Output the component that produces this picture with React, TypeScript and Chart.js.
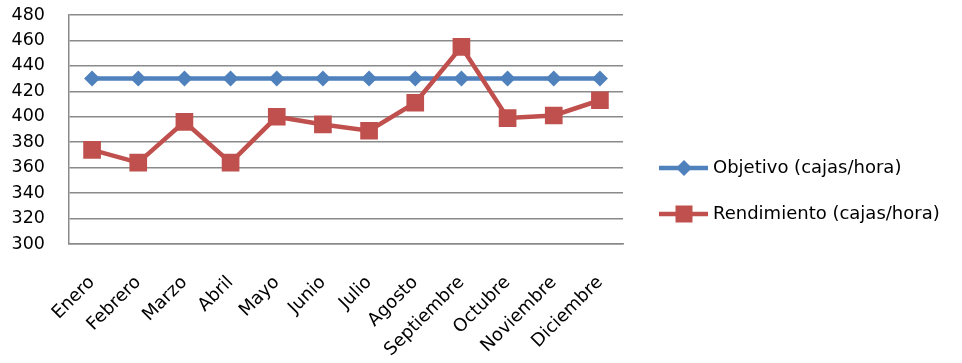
import React, { useEffect, useRef } from 'react';
import { Chart, registerables } from 'chart.js';

Chart.register(...registerables);

const months = ['Enero', 'Febrero', 'Marzo', 'Abril', 'Mayo', 'Junio', 'Julio', 'Agosto', 'Septiembre', 'Octubre', 'Noviembre', 'Diciembre'];
const objetivo = [430, 430, 430, 430, 430, 430, 430, 430, 430, 430, 430, 430];
const rendimiento = [374, 364, 396, 364, 400, 394, 389, 411, 455, 399, 401, 413];
const seriesNames = ['Objetivo (cajas/hora)', 'Rendimiento (cajas/hora)'];
const yMin = 300;
const yMax = 480;
const yStep = 20;

const BLUE = '#4F81BD';
const RED = '#C0504D';
const GRID = '#8a8a8a';
const FONT = 'DejaVu Sans';

function drawMarker(ctx: CanvasRenderingContext2D, style: string, x: number, y: number, color: string) {
  ctx.save();
  ctx.fillStyle = color;
  ctx.beginPath();
  if (style === 'rectRot') {
    const r = 8;
    ctx.moveTo(x - r, y);
    ctx.lineTo(x, y - r);
    ctx.lineTo(x + r, y);
    ctx.lineTo(x, y + r);
    ctx.closePath();
  } else {
    const h = 8.5;
    ctx.rect(x - h, y - h, 2 * h, 2 * h);
  }
  ctx.fill();
  ctx.restore();
}

const legendPlugin = {
  id: 'customLegend',
  afterDraw(chart: any) {
    const ctx: CanvasRenderingContext2D = chart.ctx;
    const area = chart.chartArea;
    const x0 = area.right + 36;
    const rows = [168, 214];
    chart.data.datasets.forEach((ds: any, i: number) => {
      const y = rows[i];
      ctx.save();
      ctx.strokeStyle = ds.borderColor;
      ctx.lineWidth = 4.5;
      ctx.beginPath();
      ctx.moveTo(x0, y);
      ctx.lineTo(x0 + 49, y);
      ctx.stroke();
      drawMarker(ctx, ds.pointStyle, x0 + 25, y, ds.borderColor);
      ctx.fillStyle = '#000';
      ctx.font = `18px "${FONT}"`;
      ctx.textBaseline = 'middle';
      ctx.textAlign = 'left';
      ctx.fillText(ds.label, x0 + 54, y);
      ctx.restore();
    });
  },
};

export default function App() {
  const canvasRef = useRef<HTMLCanvasElement | null>(null);

  useEffect(() => {
    if (!canvasRef.current) return;
    const chart = new Chart(canvasRef.current, {
      type: 'line',
      data: {
        labels: months,
        datasets: [
          {
            label: seriesNames[0],
            data: objetivo,
            borderColor: BLUE,
            backgroundColor: BLUE,
            borderWidth: 4.5,
            pointStyle: 'rectRot',
            pointRadius: 8,
            pointBorderWidth: 0,
            tension: 0,
            order: 1,
          },
          {
            label: seriesNames[1],
            data: rendimiento,
            borderColor: RED,
            backgroundColor: RED,
            borderWidth: 4.5,
            pointStyle: 'rect',
            pointRadius: 12.5,
            pointBorderWidth: 0,
            tension: 0,
            order: 0,
          },
        ],
      },
      options: {
        animation: false,
        responsive: false,
        maintainAspectRatio: false,
        layout: { padding: { top: 15, right: 339, left: 0, bottom: 0 } },
        plugins: {
          legend: { display: false },
          tooltip: { enabled: false },
        },
        scales: {
          x: {
            offset: true,
            grid: { display: false, drawTicks: false, offset: true },
            border: { display: true, color: GRID, width: 1.5 },
            ticks: {
              color: '#000',
              font: { family: FONT, size: 18 },
              minRotation: 45,
              maxRotation: 45,
              autoSkip: false,
              padding: 28,
            },
            afterFit: (scale: any) => {
              scale.height = 119;
              scale.paddingLeft = 0;
              scale.paddingRight = 0;
              scale.paddingTop = 0;
              scale.paddingBottom = 0;
            },
          },
          y: {
            min: yMin,
            max: yMax,
            grid: { color: GRID, lineWidth: 1.5, drawTicks: false },
            border: { display: true, color: GRID, width: 1.5 },
            ticks: {
              stepSize: yStep,
              autoSkip: false,
              color: '#000',
              font: { family: FONT, size: 17.5 },
              padding: 24,
            },
            afterFit: (scale: any) => {
              scale.width = 69;
              scale.paddingTop = 0;
              scale.paddingBottom = 0;
              scale.paddingLeft = 0;
              scale.paddingRight = 0;
            },
          },
        },
      },
      plugins: [legendPlugin],
    });
    return () => chart.destroy();
  }, []);

  return (
    <div style={{ position: 'fixed', left: 0, top: 0, width: 962, height: 363, background: '#fff' }}>
      <canvas ref={canvasRef} width={962} height={363} style={{ width: 962, height: 363, display: 'block' }} />
    </div>
  );
}
